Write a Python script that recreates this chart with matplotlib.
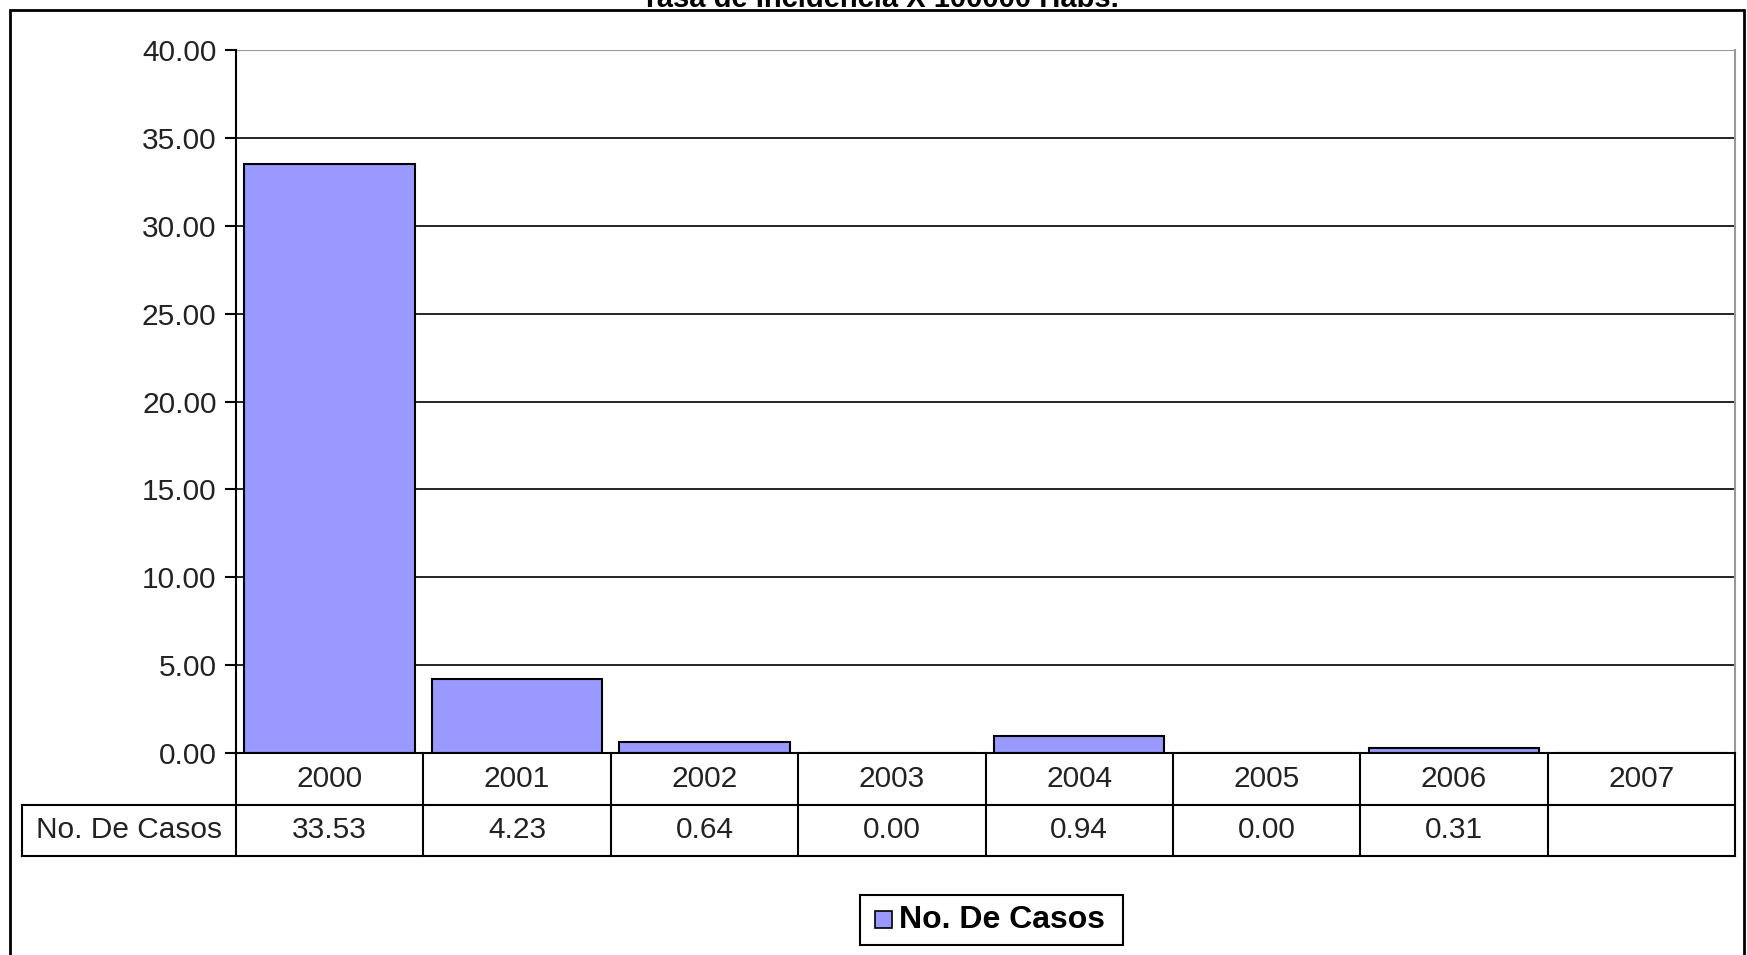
import matplotlib
matplotlib.use("Agg")
import matplotlib.pyplot as plt
from matplotlib.patches import Rectangle

plt.rcParams['font.family'] = ['Liberation Sans', 'DejaVu Sans']

years = ["2000", "2001", "2002", "2003", "2004", "2005", "2006", "2007"]
values = [33.53, 4.23, 0.64, 0.00, 0.94, 0.00, 0.31, None]
table_labels = ["33.53", "4.23", "0.64", "0.00", "0.94", "0.00", "0.31", ""]
series_name = "No. De Casos"
title = "Tasa de Incidencia X 100000 Habs."
yticks = [0, 5, 10, 15, 20, 25, 30, 35, 40]

W, H = 1747, 955
fig = plt.figure(figsize=(W / 100, H / 100), dpi=100)

def fx(px):
    return px / W

def fy(py):
    return 1 - py / H

# outer border
fig.patches.append(Rectangle((fx(10), fy(1000)), fx(1744) - fx(10), fy(10) - fy(1000),
                             transform=fig.transFigure, fill=False, edgecolor='black',
                             linewidth=2, clip_on=True))

# title (top cut off as in reference)
fig.text(fx(880), fy(7), title, ha='center', va='baseline', fontsize=21, fontweight='bold')

left, right, top, zero = 236, 1735, 50, 753
ax = fig.add_axes([fx(left), fy(zero), fx(right) - fx(left), fy(top) - fy(zero)])
n = len(years)
xs = list(range(n))
bar_vals = [v if v is not None else 0 for v in values]
ax.bar(xs, bar_vals, width=0.91, color='#9999FF', edgecolor='black', linewidth=1.5, zorder=3)
ax.set_xlim(-0.5, n - 0.5)
ax.set_ylim(0, 40)
ax.set_yticks(yticks)
ax.set_yticklabels([f"{t:.2f}" for t in yticks], fontsize=21.5, color='#222222')
for t in yticks[1:-1]:
    ax.axhline(t, color='black', linewidth=1.2, zorder=1)
ax.axhline(40, color='#999999', linewidth=1.5, zorder=1)
ax.set_xticks([])
for s in ['top', 'bottom']:
    ax.spines[s].set_visible(False)
ax.spines['right'].set_color('#999999')
ax.spines['right'].set_linewidth(1.5)
ax.spines['left'].set_linewidth(1.5)
ax.tick_params(axis='y', direction='out', length=8, width=1.5, pad=6)

# data table
tbottom = 856
tax = fig.add_axes([fx(left), fy(tbottom), fx(right) - fx(left), fy(zero) - fy(tbottom)])
tax.set_xlim(-0.5, n - 0.5)
tax.set_ylim(0, 2)
tax.axis('off')
colw = (right - left) / n
lab_left = -0.5 - (left - 22) / colw
lw = 1.5
tax.plot([-0.5, n - 0.5], [2, 2], color='black', lw=lw, clip_on=False)
tax.plot([lab_left, n - 0.5], [1, 1], color='black', lw=lw, clip_on=False)
tax.plot([lab_left, n - 0.5], [0, 0], color='black', lw=lw, clip_on=False)
for i in range(n + 1):
    tax.plot([i - 0.5, i - 0.5], [0, 2], color='black', lw=lw, clip_on=False)
tax.plot([lab_left, lab_left], [0, 1], color='black', lw=lw, clip_on=False)
for i, y in enumerate(years):
    tax.text(i, 1.5, y, ha='center', va='center', fontsize=21.5, color='#222222')
    tax.text(i, 0.5, table_labels[i], ha='center', va='center', fontsize=21.5, color='#222222')
tax.text((lab_left - 0.5) / 2, 0.5, series_name, ha='center', va='center', fontsize=21.5,
         color='#222222', clip_on=False)

# legend
fig.patches.append(Rectangle((fx(860), fy(945)), fx(1123) - fx(860), fy(895) - fy(945),
                             transform=fig.transFigure, fill=False, edgecolor='black', linewidth=1.5))
fig.patches.append(Rectangle((fx(875), fy(928)), fx(892) - fx(875), fy(911) - fy(928),
                             transform=fig.transFigure, facecolor='#9999FF', edgecolor='black', linewidth=1.2))
fig.text(fx(899), fy(920), series_name, ha='left', va='center', fontsize=23, fontweight='bold')

fig.savefig("out.png", dpi=100)
